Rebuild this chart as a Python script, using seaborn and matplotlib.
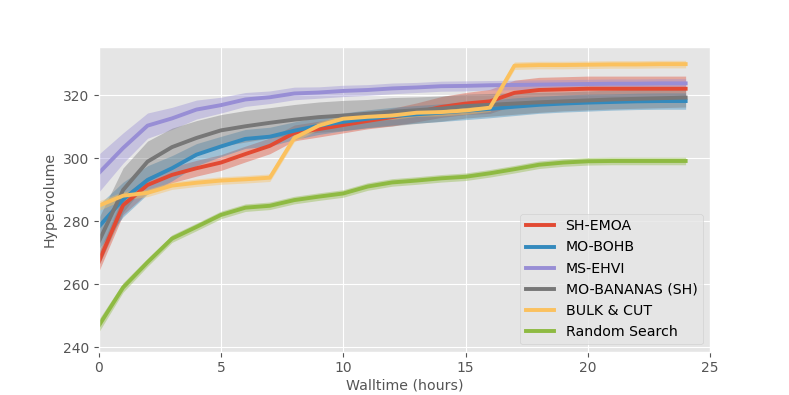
import matplotlib
matplotlib.use("Agg")
import matplotlib.pyplot as plt
import seaborn as sns
import pandas as pd

hours = list(range(25))

methods = ["SH-EMOA", "MO-BOHB", "MS-EHVI", "MO-BANANAS (SH)", "BULK & CUT", "Random Search"]

sh_emoa = [267.0, 285.1, 291.5, 294.7, 296.8, 298.6, 301.3, 303.9, 308.0, 309.2, 310.5, 311.8, 313.0,
           314.5, 316.2, 317.3, 318.0, 320.7, 321.6, 321.8, 322.0, 322.0, 322.0, 322.0, 322.0]
mo_bohb = [278.2, 286.9, 293.1, 296.8, 301.1, 303.7, 306.1, 306.8, 308.7, 310.3, 311.5, 312.5, 313.3,
           313.9, 314.4, 315.0, 315.6, 316.3, 316.9, 317.3, 317.6, 317.8, 318.0, 318.1, 318.1]
ms_ehvi = [295.2, 303.2, 310.3, 312.6, 315.4, 316.8, 318.6, 319.3, 320.5, 320.8, 321.3, 321.6, 322.1,
           322.4, 322.8, 322.9, 323.1, 323.2, 323.3, 323.4, 323.5, 323.6, 323.6, 323.7, 323.7]
mo_bananas = [273.4, 289.9, 298.9, 303.5, 306.4, 308.8, 310.1, 311.2, 312.2, 313.0, 313.5, 314.1, 314.7,
              315.2, 315.7, 316.5, 316.9, 317.3, 317.7, 318.0, 318.3, 318.6, 318.8, 319.0, 319.2]
bulk_cut = [284.9, 288.1, 289.0, 291.3, 292.2, 292.9, 293.3, 293.8, 306.4, 310.3, 312.5, 313.1, 313.5,
            314.4, 314.6, 315.1, 316.0, 329.3, 329.5, 329.5, 329.6, 329.7, 329.7, 329.8, 329.8]
random_search = [246.8, 259.0, 267.0, 274.5, 278.2, 282.0, 284.3, 284.9, 286.7, 287.8, 288.8, 291.0, 292.3,
                 292.9, 293.6, 294.1, 295.2, 296.5, 297.9, 298.6, 299.0, 299.1, 299.1, 299.1, 299.1]

# half widths of the shaded bands
sh_emoa_err = [3.0, 3.0, 2.5, 2.5, 2.5, 2.5, 2.5, 2.5, 2.5, 2.5, 2.5, 2.5, 2.8,
               3.0, 3.3, 3.5, 3.8, 4.0, 4.0, 4.0, 4.0, 4.0, 4.0, 4.0, 4.0]
mo_bohb_err = [7.0, 5.5, 4.5, 4.0, 3.5, 3.2, 3.0, 3.0, 2.8, 2.8, 2.8, 2.8, 2.8,
               2.8, 2.8, 2.8, 2.8, 2.8, 2.7, 2.7, 2.7, 2.6, 2.6, 2.6, 2.6]
ms_ehvi_err = [6.0, 4.8, 4.0, 3.5, 3.0, 2.5, 2.2, 2.0, 2.0, 1.8, 1.8, 1.7, 1.7,
               1.6, 1.6, 1.6, 1.5, 1.5, 1.5, 1.5, 1.5, 1.5, 1.5, 1.5, 1.5]
mo_bananas_err = [7.5, 7.0, 6.5, 6.0, 5.5, 5.0, 5.0, 4.8, 4.8, 4.8, 4.8, 4.5, 4.5,
                  4.2, 4.0, 3.8, 3.6, 3.4, 3.2, 3.0, 3.0, 3.0, 3.0, 3.0, 3.0]
bulk_cut_err = [1.5, 1.3, 1.2, 1.2, 1.2, 1.2, 1.2, 1.2, 1.2, 1.2, 1.2, 1.2, 1.2,
                1.2, 1.2, 1.2, 1.2, 1.2, 1.2, 1.2, 1.2, 1.2, 1.2, 1.2, 1.2]
random_search_err = [2.0, 1.5, 1.3, 1.2, 1.2, 1.2, 1.2, 1.2, 1.2, 1.2, 1.2, 1.2, 1.2,
                     1.2, 1.2, 1.2, 1.2, 1.2, 1.2, 1.2, 1.2, 1.2, 1.2, 1.2, 1.2]

colors = ["#E24A33", "#348ABD", "#988ED5", "#777777", "#FBC15E", "#8EBA42"]

means = [sh_emoa, mo_bohb, ms_ehvi, mo_bananas, bulk_cut, random_search]
errs = [sh_emoa_err, mo_bohb_err, ms_ehvi_err, mo_bananas_err, bulk_cut_err, random_search_err]

plt.style.use("ggplot")

fig, ax = plt.subplots(figsize=(7.89, 3.95), dpi=100)

for name, m, e, c in zip(methods, means, errs, colors):
    df = pd.DataFrame({"hours": hours, "hv": m})
    sns.lineplot(data=df, x="hours", y="hv", ax=ax, color=c, linewidth=2.8, label=name)
    lo = [a - b for a, b in zip(m, e)]
    hi = [a + b for a, b in zip(m, e)]
    ax.fill_between(hours, lo, hi, color=c, alpha=0.4, linewidth=0)

ax.set_xlim(0, 25)
ax.set_ylim(238.7, 335.1)
ax.set_xticks([0, 5, 10, 15, 20, 25])
ax.set_yticks([240, 260, 280, 300, 320])
ax.tick_params(labelsize=10)
ax.set_xlabel("Walltime (hours)", fontsize=10.2, labelpad=2)
ax.set_ylabel("Hypervolume", fontsize=10.2)

leg = ax.legend(loc="lower right", fontsize=10.2)
for line in leg.get_lines():
    line.set_linewidth(2.8)

fig.savefig("out.png", dpi=100)
plt.close(fig)
